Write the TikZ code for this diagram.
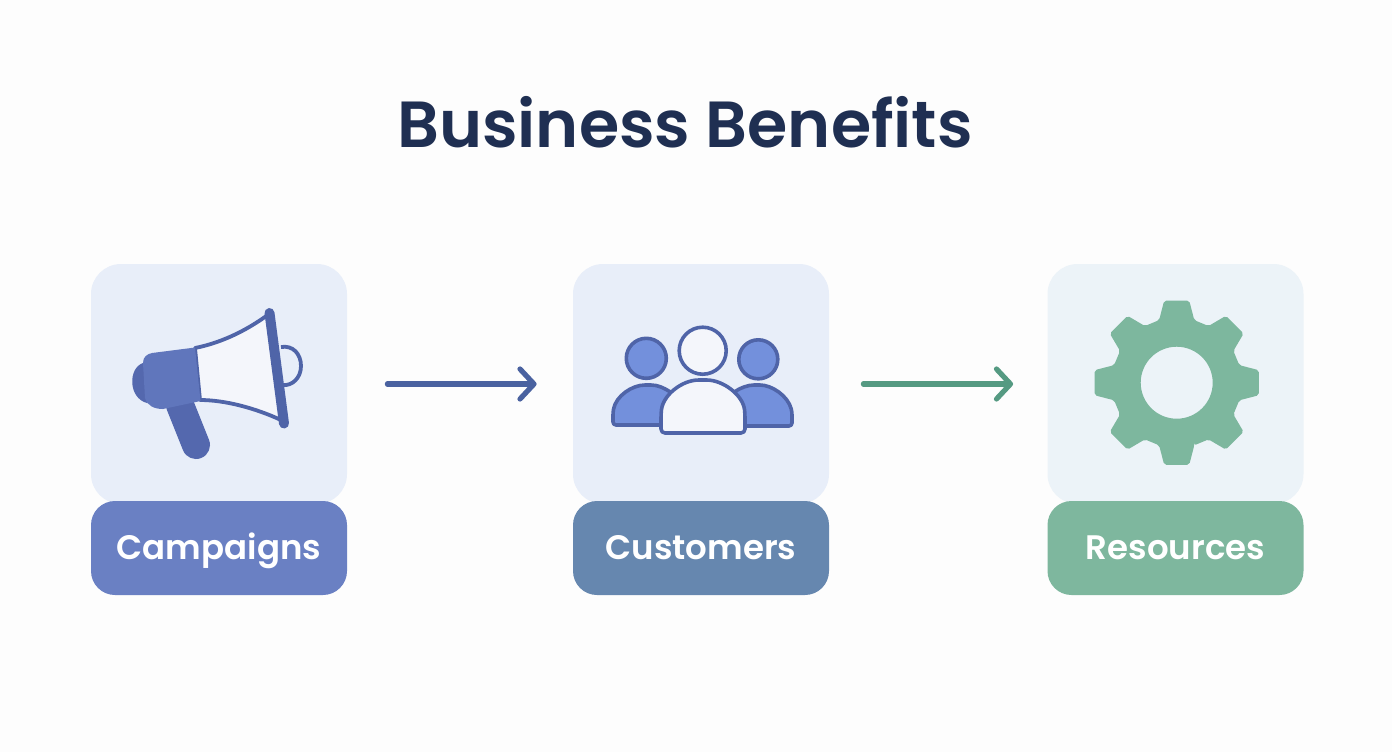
\documentclass[tikz,border=0pt]{standalone}
\usepackage{fontspec}
\setmainfont{Poppins SemiBold}
\usetikzlibrary{arrows.meta}
\definecolor{bgc}{HTML}{FDFDFD}
\definecolor{titlec}{HTML}{1F2F52}
\definecolor{panelA}{HTML}{E8EEF9}
\definecolor{panelB}{HTML}{E8EEF9}
\definecolor{panelC}{HTML}{ECF3F8}
\definecolor{labA}{HTML}{6A80C3}
\definecolor{labB}{HTML}{6687AF}
\definecolor{labC}{HTML}{7EB79E}
\definecolor{arrA}{HTML}{4A62A0}
\definecolor{arrB}{HTML}{559A82}
\definecolor{iconLine}{HTML}{4F64A8}
\definecolor{iconBody}{HTML}{6076BC}
\definecolor{iconDark}{HTML}{5468AE}
\definecolor{iconWhite}{HTML}{F4F6FB}
\definecolor{peopleFill}{HTML}{7390DC}
\definecolor{gearc}{HTML}{7DB79E}
\tikzset{
  x=0.5pt,y=-0.5pt,
  panelbox/.style={rounded corners=15pt,minimum width=128pt,minimum height=120pt,inner sep=0pt},
  labelbox/.style={rounded corners=12pt,minimum width=128pt,minimum height=47pt,inner sep=0pt,text=white,text height=14pt,text depth=3pt,font=\fontsize{17}{20}\selectfont},
  flowarrow/.style={line width=2.6pt,line cap=round,-{Straight Barb[length=7pt,width=15pt,round,line width=2.6pt]}},
  iconstroke/.style={draw=iconLine,line width=1.8pt,line join=round},
}
\begin{document}
\begin{tikzpicture}
\useasboundingbox (0,0) rectangle (1392,752);
\fill[bgc] (0,0) rectangle (1392,752);
\node[text=titlec,font=\fontsize{32.6}{38}\selectfont] (title) at (685,122) {Business Benefits};
% panels
\node[panelbox,fill=panelA] (panelone) at (219,384) {};
\node[panelbox,fill=panelB] (paneltwo) at (701,384) {};
\node[panelbox,fill=panelC] (panelthree) at (1175.5,384) {};
\node[labelbox,fill=labA] (labone) at (219,548) {Campaigns};
\node[labelbox,fill=labB] (labtwo) at (701,548) {Customers};
\node[labelbox,fill=labC] (labthree) at (1175.5,548) {Resources};
% arrows
\draw[flowarrow,arrA,shorten <=20pt,shorten >=18pt] (panelone) -- (paneltwo);
\draw[flowarrow,arrB,shorten <=17pt,shorten >=17pt] (paneltwo) -- (panelthree);
% megaphone
\draw[iconLine,line width=1.9pt] (281,347) .. controls (293,345) and (301,354) .. (301,366) .. controls (301,378) and (292,386) .. (283,385);
\draw[iconDark,line width=14pt,line cap=round] (180,405) -- (196,445);
\fill[iconDark] (143,363) .. controls (128,368) and (128,398) .. (147,403) -- (160,380) -- cycle;
\filldraw[fill=iconWhite,draw=iconLine,line width=1.9pt,line join=round] (195,348) .. controls (225,342) and (250,328) .. (269,314) -- (281,420) .. controls (255,408) and (225,400) .. (200,400) -- cycle;
\draw[iconLine,line width=5pt,line cap=round] (269.5,313) -- (284,423.5);
\fill[iconBody] (152,353) -- (195,347.5) -- (200.5,401) -- (163,409) .. controls (155,409) and (147,406) .. (145,398) -- (143,363) .. controls (143,357) and (147,354) .. (152,353) -- cycle;
% people
\filldraw[fill=peopleFill,iconstroke] (646.3,358.3) circle[radius=20];
\filldraw[fill=peopleFill,iconstroke] (758.3,359.3) circle[radius=19.5];
\filldraw[fill=peopleFill,iconstroke,rounded corners=1.5pt] (613,425) -- (613,412) .. controls (616,396) and (632,385) .. (648,385) .. controls (658,385) and (664,388) .. (672,393) -- (672,425) -- cycle;
\filldraw[fill=peopleFill,iconstroke,rounded corners=1.5pt] (792,426) -- (792,412) .. controls (788,396) and (772,385) .. (757,385) .. controls (748,385) and (740,388) .. (733,393) -- (733,426) -- cycle;
\filldraw[fill=iconWhite,iconstroke] (702.7,350.7) circle[radius=23.5];
\filldraw[fill=iconWhite,iconstroke,rounded corners=2pt] (661,433) -- (661,414) .. controls (663,395) and (682,380) .. (702.7,380) .. controls (723,380) and (743,395) .. (745,414) -- (745,433) -- cycle;
% gear
\begin{scope}[shift={(1176.7,382.7)}]
\fill[gearc,even odd rule,rounded corners=1pt]
  (74.3:65)
  \foreach \a in {0,45,...,315} {
    -- ({\a+90-15.7}:65) -- ({\a+90-8.7}:83) -- ({\a+90+8.7}:83) -- ({\a+90+15.7}:65)
  } -- cycle
  (0,0) circle[radius=36];
\end{scope}
\end{tikzpicture}
\end{document}
